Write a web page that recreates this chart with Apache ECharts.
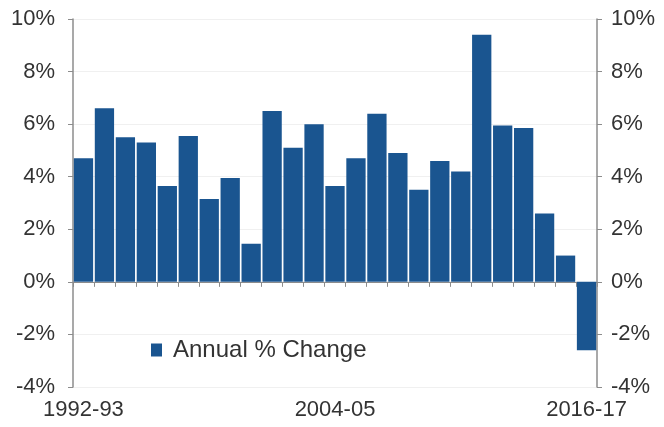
<!DOCTYPE html>
<html lang="en">
<head>
    <meta charset="UTF-8">
    <title>Annual % Change</title>
    <script src="https://cdn.jsdelivr.net/npm/echarts@6/dist/echarts.min.js"></script>
    <style>
        html, body { margin: 0; padding: 0; background: #fff; }
        #box { width: 664px; height: 427px; }
    </style>
</head>
<body>
<div id="box"></div>
<script>
    // 财年
    var years = ['1992-93', '1993-94', '1994-95', '1995-96', '1996-97', '1997-98', '1998-99',
        '1999-00', '2000-01', '2001-02', '2002-03', '2003-04', '2004-05', '2005-06', '2006-07',
        '2007-08', '2008-09', '2009-10', '2010-11', '2011-12', '2012-13', '2013-14', '2014-15',
        '2015-16', '2016-17'];
    // 年变化率 %
    var change = [4.7, 6.6, 5.5, 5.3, 3.65, 5.55, 3.15, 3.95, 1.45, 6.5, 5.1, 6.0, 3.65, 4.7,
        6.4, 4.9, 3.5, 4.6, 4.2, 9.4, 5.95, 5.85, 2.6, 1.0, -2.6];
    // 底部只显示这几个年份
    var shownYears = ['1992-93', '2004-05', '2016-17'];

    var font = '"Liberation Sans", Arial, sans-serif';
    var axisColor = '#8c8c8c';

    var yAxisBase = {
        type: 'value',
        min: -4,
        max: 10,
        interval: 2,
        axisLine: { show: true, lineStyle: { color: axisColor, width: 1.5 } },
        axisTick: { show: true, length: 5, lineStyle: { color: axisColor } },
        splitLine: { show: true, lineStyle: { color: '#f0f0f0' } },
        axisLabel: {
            color: '#333',
            fontSize: 22,
            fontFamily: font,
            formatter: '{value}%'
        }
    };

    var myChart = echarts.init(document.getElementById('box'));
    var option = {
        animation: false,
        grid: { left: 73, right: 67, top: 19, bottom: 40 },
        legend: {
            data: ['Annual % Change'],
            icon: 'rect',
            left: 146,
            top: 333,
            itemWidth: 11,
            itemHeight: 13,
            textStyle: { fontSize: 24, fontFamily: font, color: '#333', padding: [0, 0, 0, 6] }
        },
        xAxis: [{
            type: 'category',
            data: years,
            axisLine: { onZero: true, lineStyle: { color: axisColor, width: 1 } },
            axisTick: { show: true, interval: 0, length: 5, lineStyle: { color: axisColor } },
            axisLabel: { show: false }
        }, {
            type: 'category',
            data: years,
            position: 'bottom',
            axisLine: { show: false, onZero: false },
            axisTick: { show: false },
            axisLabel: {
                color: '#333',
                fontSize: 22,
                fontFamily: font,
                margin: 12,
                interval: function (i, v) { return shownYears.indexOf(v) >= 0; }
            }
        }],
        yAxis: [
            Object.assign({}, yAxisBase, { position: 'left', axisLabel: Object.assign({}, yAxisBase.axisLabel, { margin: 18 }) }),
            Object.assign({}, yAxisBase, { position: 'right', splitLine: { show: false }, axisLabel: Object.assign({}, yAxisBase.axisLabel, { margin: 14 }) })
        ],
        series: [{
            name: 'Annual % Change',
            type: 'bar',
            data: change,
            barCategoryGap: '8%',
            itemStyle: { color: '#1a5590' }
        }]
    };
    myChart.setOption(option);
</script>
</body>
</html>
